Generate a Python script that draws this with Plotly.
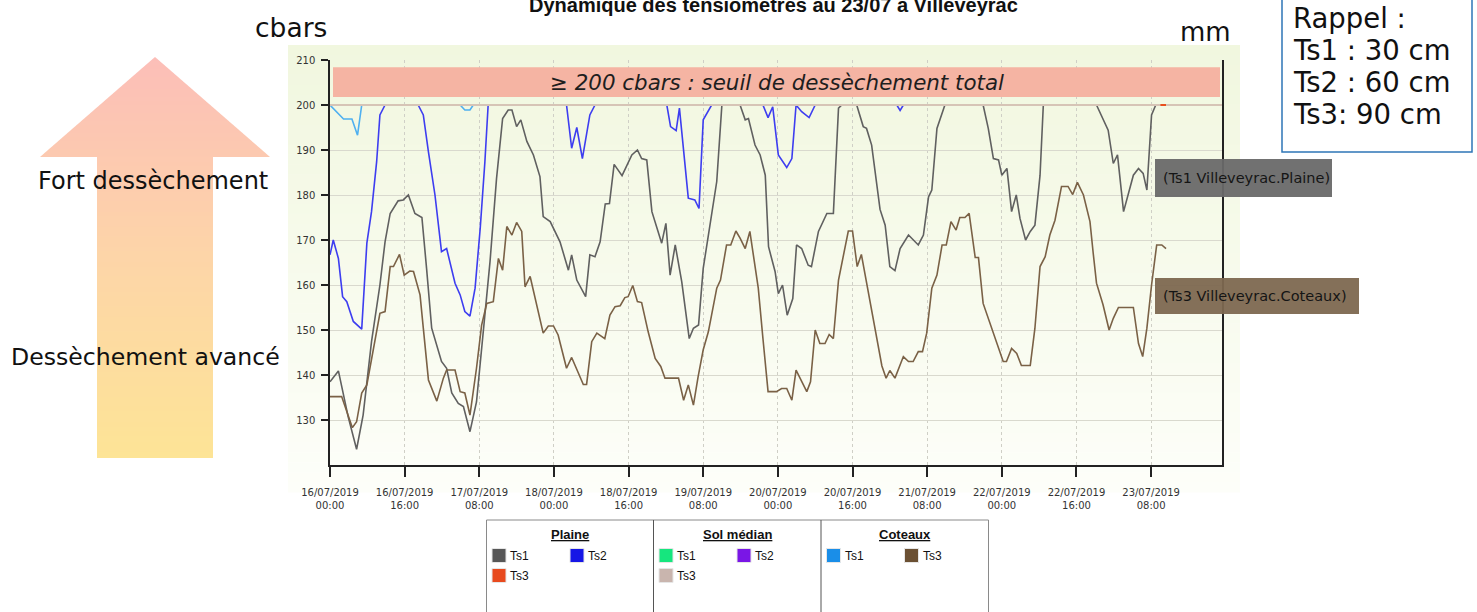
import plotly.graph_objects as go
import pandas as pd

# ---------------- data ----------------
START = pd.Timestamp("2019-07-16 00:00")
X_END_H = 191.2  # hours shown on the x axis

plaine_ts1_h = [0, 1.8, 3.9, 5.7, 7.1, 8.9, 10.7, 11.8, 12.9, 14.6, 15.7, 16.8, 18.2, 19.7, 20.7, 21.8,
                23.9, 25.0, 26.1, 27.5, 28.6, 30.0, 31.4, 32.9, 34.3, 35.7, 37.0, 38.2, 39.0, 40.0, 40.9,
                42.2, 43.6, 45.0, 45.7, 47.2, 49.3, 51.1, 51.8, 52.9, 54.8, 55.7, 56.8, 57.9, 59.0, 59.9,
                60.9, 62.6, 64.7, 65.9, 66.8, 67.9, 69.0, 71.1, 72.0, 72.9, 74.0, 75.4, 77.0, 77.9, 79.0,
                80.0, 81.5, 82.9, 84.0, 87.9, 89.0, 89.7, 91.1, 92.2, 93.3, 94.0, 95.4, 96.1, 97.0, 98.0,
                99.2, 100.0, 101.1, 102.5, 103.2, 104.7, 106.5, 107.9, 109.0, 109.7, 112.9, 114.3, 115.0,
                116.1, 117.9, 119.0, 120.0, 121.1, 122.2, 124.0, 126.1, 127.2, 128.3, 129.0, 130.1, 131.8,
                140.0, 141.1, 142.2, 143.3, 144.0, 145.1, 146.1, 147.1, 147.9, 149.1, 150.1, 151.1, 152.2,
                152.9, 164.3, 165.7, 166.8, 167.9, 168.8, 170.1, 172.2, 173.3, 174.3, 175.1, 176.1, 177.0,
                178.3]
plaine_ts1_v = [138.5, 140.9, 130.7, 123.5, 131.1, 147.4, 160, 169.6, 175.9, 178.7, 178.9, 180, 175.9, 175,
                163.7, 150.4, 143, 141.5, 136, 133.7, 133, 127.4, 134, 150.4, 165.2, 183.7, 197, 198.9, 198.9,
                195.2, 196.7, 191.9, 188.9, 184.1, 175.2, 174.1, 169.6, 163.3, 166.7, 161.1, 157.4, 166.7,
                166.3, 169.6, 178, 178.1, 186.8, 184.3, 188.9, 190, 188.1, 187.8, 176.3, 169.3, 173.7, 162.2,
                168.9, 160.7, 148.1, 150.4, 151.1, 163.7, 174.1, 183, 200, 200, 196.7, 197, 191.1, 188.9,
                184.4, 168.5, 163, 158.1, 160, 153.3, 157, 168.9, 168.1, 164.4, 164.1, 171.9, 175.9, 175.9,
                199.3, 200, 200, 195.2, 194.8, 191.1, 176.8, 173.3, 164.1, 163.2, 168.1, 171.1, 168.9, 171.1,
                179.6, 181.1, 194.8, 200, 200, 194.8, 188.1, 187.8, 184.4, 185.9, 176.3, 180, 174.8, 170,
                171.9, 173.3, 184.4, 200, 200, 196.7, 194.4, 187, 188.9, 176.3, 184.4, 185.9, 184.8, 181.1,
                197.8, 200, 200]

plaine_ts2_h = [0, 0.7, 1.8, 2.7, 3.6, 5.0, 6.8, 7.9, 8.9, 10.0, 10.7, 11.8, 18.9, 20.0, 21.1, 22.5, 23.9,
                25.0, 26.8, 27.9, 28.9, 30.0, 31.1, 32.2, 33.2, 33.9, 50.7, 51.8, 52.9, 54.1, 55.7, 56.8,
                72.2, 73.0, 74.2, 74.9, 76.8, 78.2, 79.1, 80.0, 81.8, 92.8, 93.9, 94.9, 96.1, 97.9, 99.0,
                99.9, 101.1, 102.7, 104.0, 121.5, 122.2, 122.9, 178.3]
plaine_ts2_v = [166.7, 170, 165.9, 157.4, 156.3, 151.9, 150.2, 169.3, 176.3, 187.4, 197.8, 200, 200, 197.8,
                189.6, 180, 167.4, 168.1, 160.4, 157.8, 154.1, 153.1, 159.3, 172.6, 187.4, 200, 200, 190.4,
                195, 188.1, 197.8, 200, 200, 195.2, 194.3, 199.3, 179.3, 178.9, 177, 196.7, 200, 200, 197.2,
                199.6, 188.9, 186.1, 188.1, 200, 198.5, 197.2, 200, 200, 198.8, 200, 200]

plaine_ts3_h = [178.0, 179.2]
plaine_ts3_v = [200, 200]

coteaux_ts1_h = [0, 1.4, 2.9, 4.7, 5.9, 6.8, 27.9, 28.9, 30.0, 30.7, 178.3]
coteaux_ts1_v = [200, 198.5, 196.9, 196.9, 193.3, 200, 200, 198.9, 198.9, 200, 200]

coteaux_ts3_h = [0, 2.5, 3.6, 4.8, 5.7, 6.8, 7.9, 9.3, 10.7, 11.8, 12.9, 13.6, 14.9, 15.9, 17.1, 17.9, 19.3,
                 20.0, 21.1, 22.9, 24.3, 25.0, 26.8, 27.9, 28.9, 30.0, 31.4, 32.5, 33.6, 35.0, 36.1, 37.0,
                 37.9, 39.0, 40.0, 41.1, 41.8, 42.9, 44.3, 45.7, 46.8, 47.9, 48.9, 50.7, 51.8, 54.3, 55.0,
                 56.1, 57.2, 58.9, 60.0, 61.1, 62.2, 63.2, 63.9, 64.9, 65.9, 66.8, 68.2, 69.7, 70.9, 71.8,
                 74.7, 75.8, 76.8, 77.9, 78.9, 80.0, 81.1, 82.9, 83.7, 85.0, 85.9, 87.0, 87.9, 89.0, 90.0,
                 91.8, 92.8, 93.9, 95.7, 96.8, 97.9, 99.0, 99.9, 100.8, 102.2, 103.0, 104.0, 105.0, 106.1,
                 107.0, 107.9, 109.0, 110.0, 111.1, 112.0, 113.0, 113.9, 115.4, 116.8, 118.3, 119.2, 120.0,
                 121.1, 122.9, 124.0, 125.0, 126.1, 127.0, 127.9, 129.0, 130.1, 131.2, 132.1, 133.1, 134.2,
                 135.0, 136.1, 137.0, 138.3, 139.0, 140.0, 141.1, 142.5, 144.3, 145.0, 146.1, 147.2, 148.2,
                 150.1, 151.1, 152.2, 153.3, 154.3, 155.4, 156.8, 158.2, 159.2, 160.2, 161.5, 162.9, 163.6,
                 164.3, 165.7, 167.0, 167.9, 169.0, 172.2, 173.3, 174.2, 175.1, 176.1, 177.2, 178.3, 179.2]
coteaux_ts3_v = [135.2, 135.2, 131.9, 128.3, 129.6, 136, 137.8, 145.9, 153.7, 154.1, 164.1, 164.1, 166.8,
                 162.2, 163.1, 163, 157.8, 150.4, 138.9, 134.2, 139.3, 141.1, 141.1, 136.3, 136, 131.1, 141.5,
                 151.1, 155.9, 156.3, 165.9, 163.3, 173, 171.1, 173.9, 171.9, 159.6, 161.9, 155.6, 149.3,
                 150.9, 150.9, 148.9, 141.5, 143.9, 137.9, 137.9, 147.4, 149.3, 148.1, 153.3, 155.2, 155.4,
                 157.2, 157.4, 159.9, 156.3, 156.1, 149.6, 143.7, 141.9, 139.3, 139.3, 134.4, 137.8, 133.3,
                 139.6, 145.6, 149.6, 159.3, 161.1, 168.9, 168.9, 172, 170.4, 168.1, 171.9, 159.3, 148.1,
                 136.3, 136.3, 137, 137, 134.4, 141.1, 139.3, 136.3, 138.5, 150, 147, 147, 149, 148.1, 161.1,
                 166.7, 172, 172, 164.1, 166.8, 158.5, 150, 142, 139.3, 141, 139.3, 144.1, 143, 143, 145.2,
                 145.2, 149.3, 159.3, 162.2, 168.9, 168.9, 174.1, 172.2, 175, 175, 175.9, 166.1, 166.1, 155.9,
                 152.6, 148.9, 143, 143, 145.9, 144.8, 142.1, 142.1, 150.4, 164.1, 166.3, 171.1, 174.4, 181.9,
                 181.9, 180.1, 182.8, 180, 174.1, 167, 160.4, 155.6, 150, 152.6, 155, 155, 147, 144.1, 150.4,
                 160, 168.9, 168.9, 168.1]

threshold = 200
tick_hours = [0, 16, 32, 48, 64, 80, 96, 112, 128, 144, 160, 176]
y_ticks = [130, 140, 150, 160, 170, 180, 190, 200, 210]

legend_groups = ["Plaine", "Sol médian", "Coteaux"]
legend_items = [
    [("Ts1", "#575757"), ("Ts2", "#1616e6"), ("Ts3", "#e84a1e")],
    [("Ts1", "#16e67e"), ("Ts2", "#7a16e6"), ("Ts3", "#c9b5ae")],
    [("Ts1", "#1a8ee8"), ("Ts3", "#6b5033")],
]
rappel_lines = ["Rappel :", "Ts1 : 30 cm", "Ts2 : 60 cm", "Ts3: 90 cm"]

# ---------------- geometry helpers ----------------
W, H = 1477, 612
L, R, T, B = 330, 255, 60, 147
PW, PH = W - L - R, H - T - B


def px(x):
    return (x - L) / PW


def py(y):
    return (H - B - y) / PH


def to_dt(hours):
    return START + pd.to_timedelta(hours, unit="h")


def lerp(c1, c2, t):
    return tuple(round(a + (b - a) * t) for a, b in zip(c1, c2))


def rgb(c):
    return "rgb(%d,%d,%d)" % c


FONT = "DejaVu Sans"


def label(x, y, text, size, family=FONT, color="#111", xanchor="center", xref="paper", yref="paper"):
    return dict(xref=xref, yref=yref, x=x, y=y, text=text, showarrow=False, xanchor=xanchor,
                yanchor="middle", font=dict(family=family, size=size, color=color))


fig = go.Figure()

series = [
    (coteaux_ts1_h, coteaux_ts1_v, "#4fb0f0", "Coteaux Ts1"),
    (plaine_ts2_h, plaine_ts2_v, "#3d3df0", "Plaine Ts2"),
    (plaine_ts1_h, plaine_ts1_v, "#606060", "Plaine Ts1"),
    (coteaux_ts3_h, coteaux_ts3_v, "#7a6146", "Coteaux Ts3"),
]
for h, v, c, n in series:
    fig.add_trace(go.Scatter(x=to_dt(h), y=v, mode="lines", name=n,
                             line=dict(color=c, width=1.6), showlegend=False,
                             hoverinfo="x+y+name"))

# threshold line at 200
fig.add_trace(go.Scatter(x=[to_dt(0), to_dt(X_END_H)], y=[threshold, threshold], mode="lines",
                         line=dict(color="#d6c4b6", width=2), showlegend=False, hoverinfo="skip"))
fig.add_trace(go.Scatter(x=to_dt(plaine_ts3_h), y=plaine_ts3_v, mode="lines", name="Plaine Ts3",
                         line=dict(color="#e8501e", width=2), showlegend=False))

shapes = []
annotations = []

# panel background gradient
top_c, bot_c = (241, 247, 223), (253, 254, 249)
y0p, y1p = 45, 492
n = 45
for i in range(n):
    ya = y0p + (y1p - y0p) * i / n
    yb = y0p + (y1p - y0p) * (i + 1) / n + 0.6
    shapes.append(dict(type="rect", xref="paper", yref="paper", x0=px(288), x1=px(1240),
                       y0=py(yb), y1=py(ya), line=dict(width=0),
                       fillcolor=rgb(lerp(top_c, bot_c, i / (n - 1))), layer="below"))

# red band
shapes.append(dict(type="rect", xref="paper", yref="y", x0=px(333), x1=px(1220), y0=201.8, y1=208.4,
                   fillcolor="#f5b4a3", line=dict(width=0), layer="above"))
annotations.append(label(px(777), 205.1, "<i>≥ 200 cbars : seuil de dessèchement total</i>", 21.4,
                         color="#1e1e1e", yref="y"))

# gradient arrow
c_top, c_mid, c_bot = (252, 190, 184), (253, 213, 168), (253, 228, 150)


def arrow_col(y):
    t = (y - 57) / (458 - 57)
    if t < 0.5:
        return rgb(lerp(c_top, c_mid, t / 0.5))
    return rgb(lerp(c_mid, c_bot, (t - 0.5) / 0.5))


step = 4
y = 57
while y < 157:
    y2 = min(y + step, 157)
    w1 = 115 * (y - 57) / 100
    yy2 = min(y2 + 0.6, 157)
    w2 = 115 * (yy2 - 57) / 100
    path = "M %f %f L %f %f L %f %f L %f %f Z" % (px(155 - w1), py(y), px(155 + w1), py(y),
                                                  px(155 + w2), py(yy2), px(155 - w2), py(yy2))
    shapes.append(dict(type="path", xref="paper", yref="paper", path=path,
                       fillcolor=arrow_col(y + step / 2), line=dict(width=0)))
    y = y2
y = 156.5
while y < 458:
    y2 = min(y + 5, 458)
    shapes.append(dict(type="rect", xref="paper", yref="paper", x0=px(97), x1=px(213),
                       y0=py(min(y2 + 0.6, 458)), y1=py(y), fillcolor=arrow_col(y + 2.5),
                       line=dict(width=0)))
    y = y2

annotations.append(label(px(153), py(181), "Fort dessèchement", 24))
annotations.append(label(px(145), py(357), "Dessèchement avancé", 23.6))

# units and title
annotations.append(label(px(291), py(28), "cbars", 26.5))
annotations.append(label(px(1205), py(32), "mm", 26))
annotations.append(label(px(773), py(5), "<b>Dynamique des tensiometres au 23/07 a Villeveyrac</b>", 20,
                         family="Liberation Sans"))

# rappel box
shapes.append(dict(type="rect", xref="paper", yref="paper", x0=px(1282), x1=px(1472), y0=py(152),
                   y1=py(-3), line=dict(color="#2e75b6", width=1.5), fillcolor="white"))
for i, t in enumerate(rappel_lines):
    annotations.append(label(px(1291), py(18 + 32 * i), t, 27.5, xanchor="left"))

# series labels on the right
for (x0, x1, y0, y1, col, txt) in [
    (1155, 1332, 159, 197, "rgba(105,105,105,0.95)", "(Ts1 Villeveyrac.Plaine)"),
    (1155, 1359, 278, 314, "rgba(125,104,80,0.95)", "(Ts3 Villeveyrac.Coteaux)"),
]:
    shapes.append(dict(type="rect", xref="paper", yref="paper", x0=px(x0), x1=px(x1), y0=py(y1), y1=py(y0),
                       fillcolor=col, line=dict(width=0)))
    annotations.append(label(px(x0 + 6), py((y0 + y1) / 2), txt, 14.5, color="#151515", xanchor="left"))

# custom legend
shapes.append(dict(type="rect", xref="paper", yref="paper", x0=px(486.5), x1=px(988.5), y0=py(640),
                   y1=py(520), line=dict(color="#8a8a8a", width=1), fillcolor="white"))
col_x = [486.5, 653.5, 821]
for xv in col_x[1:]:
    shapes.append(dict(type="line", xref="paper", yref="paper", x0=px(xv), x1=px(xv), y0=py(640),
                       y1=py(520), line=dict(color="#555", width=1)))
for gi, g in enumerate(legend_groups):
    cx = col_x[gi] + 83.5
    annotations.append(label(px(cx), py(534), "<u><b>%s</b></u>" % g, 13, family="Liberation Sans"))
    for ii, (lab, colr) in enumerate(legend_items[gi]):
        sx = col_x[gi] + 5.5 + (ii % 2) * 78
        sy = 548.5 + (ii // 2) * 20
        shapes.append(dict(type="rect", xref="paper", yref="paper", x0=px(sx), x1=px(sx + 14),
                           y0=py(sy + 14), y1=py(sy), fillcolor=colr, line=dict(color="#e6e6e6", width=1)))
        annotations.append(label(px(sx + 16), py(sy + 7), lab, 12, family="Liberation Sans", xanchor="left"))

tick_dt = to_dt(tick_hours)
tick_text = [d.strftime("%d/%m/%Y") + "<br>" + d.strftime("%H:%M") for d in tick_dt]

fig.update_layout(
    width=W, height=H, margin=dict(l=L, r=R, t=T, b=B, pad=0, autoexpand=False),
    paper_bgcolor="white", plot_bgcolor="white",
    shapes=shapes, annotations=annotations, showlegend=False,
    xaxis=dict(type="date", range=[to_dt(0), to_dt(X_END_H)], tickvals=list(tick_dt), ticktext=tick_text,
               showgrid=True, gridcolor="#cfcfc6", griddash="dot", gridwidth=1,
               ticks="outside", ticklen=10, tickcolor="#222", tickwidth=1.5,
               showline=True, linecolor="#222", linewidth=1.5, zeroline=False, automargin=False,
               tickfont=dict(family=FONT, size=10, color="#333"), ticklabelstandoff=7),
    yaxis=dict(range=[120, 210], tickvals=y_ticks, showgrid=True, gridcolor="#d9d9ce", gridwidth=1,
               ticks="outside", ticklen=7, tickcolor="#222", tickwidth=1.5, automargin=False,
               showline=True, mirror=True, linecolor="#222", linewidth=1.5, zeroline=False,
               tickfont=dict(family=FONT, size=10, color="#333"), ticklabelstandoff=4),
)

fig.write_html("out.html", config={"displayModeBar": False},
               post_script="document.body.style.margin='0px';document.body.style.overflow='hidden';")
